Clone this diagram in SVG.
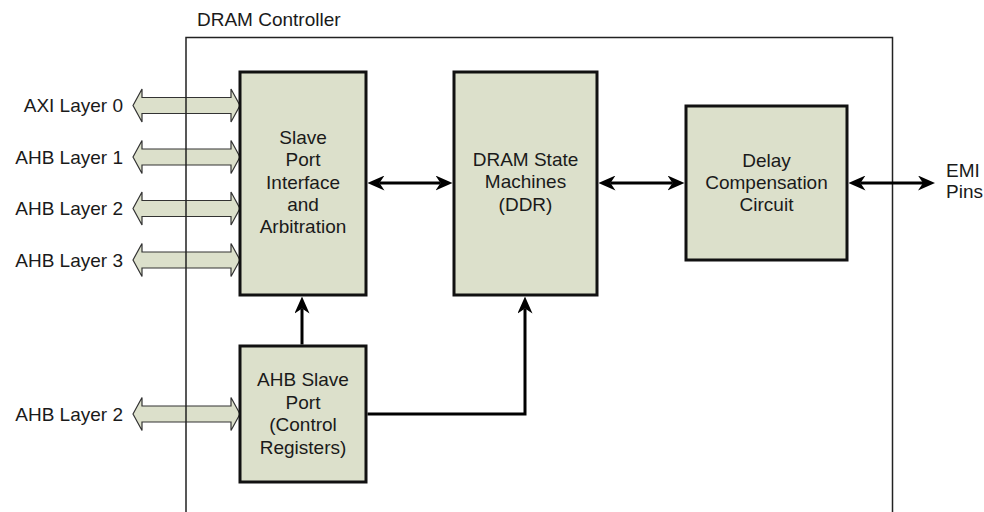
<svg xmlns="http://www.w3.org/2000/svg" width="984" height="512" viewBox="0 0 984 512">
<style>
text{font-family:"Liberation Sans",Arial,Helvetica,sans-serif;font-size:19px;fill:#1a1a1a}
.c{text-anchor:middle}
.r{text-anchor:end}
.box{fill:#dce0cb;stroke:#111;stroke-width:3}
.bus{fill:#dce0cb;stroke:#333;stroke-width:1.2;stroke-linejoin:miter}
.con{fill:none;stroke:#000;stroke-width:3}
.frame{fill:none;stroke:#222;stroke-width:1.5}
</style>
<defs>
<marker id="ah" viewBox="0 0 17 15" markerWidth="17" markerHeight="15" refX="5" refY="7.5" orient="auto-start-reverse" markerUnits="userSpaceOnUse"><path d="M0,0 L17,7.5 L0,15 L5,7.5 Z" fill="#000"/></marker>
</defs>
<text x="197" y="26">DRAM Controller</text>
<g id="buses">
<path class="bus" d="M133,105.5 L142,89 L142,97.5 L231,97.5 L231,89 L240,105.5 L231,122 L231,113.5 L142,113.5 L142,122 Z"/>
<path class="bus" d="M133,157 L142,140.5 L142,149 L231,149 L231,140.5 L240,157 L231,173.5 L231,165 L142,165 L142,173.5 Z"/>
<path class="bus" d="M133,208.5 L142,192 L142,200.5 L231,200.5 L231,192 L240,208.5 L231,225 L231,216.5 L142,216.5 L142,225 Z"/>
<path class="bus" d="M133,260 L142,243.5 L142,252 L231,252 L231,243.5 L240,260 L231,276.5 L231,268 L142,268 L142,276.5 Z"/>
<path class="bus" d="M133,414 L142,397.5 L142,406 L231,406 L231,397.5 L240,414 L231,430.5 L231,422 L142,422 L142,430.5 Z"/>
</g>
<rect class="frame" x="186" y="37.5" width="706.5" height="500"/>
<g id="labels">
<text class="r" x="123" y="112">AXI Layer 0</text>
<text class="r" x="123" y="163.5">AHB Layer 1</text>
<text class="r" x="123" y="215">AHB Layer 2</text>
<text class="r" x="123" y="266.5">AHB Layer 3</text>
<text class="r" x="123" y="420.5">AHB Layer 2</text>
<text x="946" y="177">EMI</text>
<text x="946" y="198">Pins</text>
</g>
<g id="slave-port">
<rect class="box" x="240" y="72" width="126" height="223"/>
<text class="c" x="303" y="144">Slave</text>
<text class="c" x="303" y="166.3">Port</text>
<text class="c" x="303" y="188.6">Interface</text>
<text class="c" x="303" y="210.9">and</text>
<text class="c" x="303" y="233.2">Arbitration</text>
</g>
<g id="dram-sm">
<rect class="box" x="454" y="72" width="143" height="223"/>
<text class="c" x="525.5" y="166">DRAM State</text>
<text class="c" x="525.5" y="188.3">Machines</text>
<text class="c" x="525.5" y="210.6">(DDR)</text>
</g>
<g id="delay">
<rect class="box" x="686" y="106" width="161" height="154"/>
<text class="c" x="766.5" y="166.5">Delay</text>
<text class="c" x="766.5" y="188.8">Compensation</text>
<text class="c" x="766.5" y="211.1">Circuit</text>
</g>
<g id="ahb-slave">
<rect class="box" x="240" y="346" width="126" height="136"/>
<text class="c" x="303" y="386">AHB Slave</text>
<text class="c" x="303" y="408.5">Port</text>
<text class="c" x="303" y="431">(Control</text>
<text class="c" x="303" y="453.5">Registers)</text>
</g>
<g id="connectors">
<line class="con" x1="379.5" y1="183" x2="440.5" y2="183" marker-start="url(#ah)" marker-end="url(#ah)"/>
<line class="con" x1="610.5" y1="183" x2="672.5" y2="183" marker-start="url(#ah)" marker-end="url(#ah)"/>
<line class="con" x1="860.5" y1="183" x2="923" y2="183" marker-start="url(#ah)" marker-end="url(#ah)"/>
<line class="con" x1="302" y1="344.5" x2="302" y2="308.5" marker-end="url(#ah)"/>
<path class="con" d="M367.5,414 H525 V308.5" marker-end="url(#ah)"/>
</g>
</svg>
